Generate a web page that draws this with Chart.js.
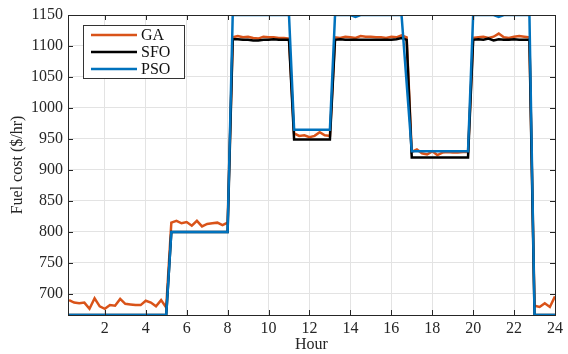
<!DOCTYPE html>
<html>
<head>
<meta charset="utf-8">
<script src="https://cdn.jsdelivr.net/npm/chart.js@4/dist/chart.umd.min.js"></script>
<style>
  html, body { margin: 0; padding: 0; background: #fff; }
  #wrap { width: 568px; height: 354px; }
</style>
</head>
<body>
<div id="wrap"><canvas id="fuelChart" width="568" height="354"></canvas></div>
<script>
// hours in 15-minute steps (0.25 .. 24)
const hours = Array.from({ length: 96 }, (_, i) => (i + 1) / 4);

const seriesNames = ['GA', 'SFO', 'PSO'];
const seriesColors = ['#D95319', '#000000', '#0072BD'];

const gaCost = [
  690, 686, 685, 686, 676, 693, 680, 676, 682, 681, 692, 684, 683, 682, 682, 689, 686, 680, 690, 678,
  815, 818, 814, 816, 810, 818, 809, 813, 814, 815, 811, 815,
  1114, 1116, 1114, 1115, 1113, 1112, 1115, 1114, 1114, 1113, 1113, 1112,
  959, 955, 956, 953, 955, 961, 956, 955,
  1114, 1113, 1115, 1114, 1113, 1116, 1115, 1115, 1114, 1114, 1113, 1115, 1114, 1117, 1114,
  929, 933, 927, 925, 930, 924, 928, 929, 928, 928, 929, 929,
  1113, 1114, 1115, 1113, 1115, 1120, 1114, 1113, 1115, 1116, 1115, 1114,
  681, 679, 685, 679, 696
];

const sfoCost = [
  666, 666, 666, 666, 666, 666, 666, 666, 666, 666, 666, 666, 666, 666, 666, 666, 666, 666, 666, 666,
  800, 800, 800, 800, 800, 800, 800, 800, 800, 800, 800, 800,
  1111, 1111, 1110, 1110, 1109, 1109, 1110, 1110, 1111, 1110, 1110, 1110,
  949, 949, 949, 949, 949, 949, 949, 949,
  1110, 1111, 1110, 1110, 1110, 1110, 1110, 1110, 1110, 1110, 1110, 1110, 1111, 1113, 1110,
  920, 920, 920, 920, 920, 920, 920, 920, 920, 920, 920, 920,
  1110, 1111, 1110, 1112, 1109, 1111, 1110, 1110, 1111, 1110, 1110, 1110,
  666, 666, 666, 666, 666
];

const psoCost = [
  666, 666, 666, 666, 666, 666, 666, 666, 666, 666, 666, 666, 666, 666, 666, 666, 666, 666, 666, 666,
  800, 800, 800, 800, 800, 800, 800, 800, 800, 800, 800, 800,
  1150, 1150, 1150, 1150, 1150, 1150, 1150, 1150, 1150, 1150, 1150, 1150,
  965, 965, 965, 965, 965, 965, 965, 965,
  1150, 1150, 1150, 1150, 1147, 1150, 1150, 1150, 1150, 1150, 1150, 1150, 1150, 1150, 1040,
  930, 930, 930, 930, 930, 930, 930, 930, 930, 930, 930, 930,
  1150, 1150, 1150, 1150, 1150, 1147, 1150, 1150, 1150, 1150, 1150, 1150,
  666, 666, 666, 666, 666
];

const yTicks = [700, 750, 800, 850, 900, 950, 1000, 1050, 1100, 1150];
const xTicks = [2, 4, 6, 8, 10, 12, 14, 16, 18, 20, 22, 24];

const allSeries = [gaCost, sfoCost, psoCost];

const FONT = 'Liberation Serif, Times New Roman, serif';
const AXIS_COL = '#262626';

// box around plot area + inward ticks + framed legend (matlab look)
const matlabFrame = {
  id: 'matlabFrame',
  afterDatasetsDraw(chart) {
    const { ctx, chartArea: a, scales } = chart;
    ctx.save();
    ctx.strokeStyle = AXIS_COL;
    ctx.lineWidth = 1;
    ctx.strokeRect(a.left + 0.5, a.top + 0.5, a.right - a.left, a.bottom - a.top);
    ctx.beginPath();
    xTicks.forEach(function (t) {
      const px = Math.round(scales.x.getPixelForValue(t)) + 0.5;
      ctx.moveTo(px, a.bottom); ctx.lineTo(px, a.bottom - 5);
      ctx.moveTo(px, a.top); ctx.lineTo(px, a.top + 5);
    });
    yTicks.forEach(function (t) {
      const py = Math.round(scales.y.getPixelForValue(t)) + 0.5;
      ctx.moveTo(a.left, py); ctx.lineTo(a.left + 5, py);
      ctx.moveTo(a.right, py); ctx.lineTo(a.right - 5, py);
    });
    ctx.stroke();

    // legend
    const lx = 83, ly = 25, lw = 101, lh = 53;
    ctx.fillStyle = '#fff';
    ctx.fillRect(lx, ly, lw, lh);
    ctx.strokeStyle = '#333';
    ctx.strokeRect(lx + 0.5, ly + 0.5, lw, lh);
    ctx.font = '16px ' + FONT;
    ctx.textBaseline = 'middle';
    chart.data.datasets.forEach(function (ds, i) {
      const y = ly + 10 + i * 17;
      ctx.strokeStyle = ds.borderColor;
      ctx.lineWidth = 2.5;
      ctx.beginPath();
      ctx.moveTo(lx + 8, y); ctx.lineTo(lx + 54, y);
      ctx.stroke();
      ctx.fillStyle = '#111';
      ctx.fillText(ds.label, lx + 58, y + 1);
    });
    ctx.restore();
  }
};

const plainNum = function (v) { return String(v); };

new Chart(document.getElementById('fuelChart'), {
  type: 'line',
  data: {
    datasets: seriesNames.map(function (name, i) {
      return {
        label: name,
        data: hours.map(function (h, k) { return { x: h, y: allSeries[i][k] }; }),
        borderColor: seriesColors[i],
        backgroundColor: seriesColors[i],
        borderWidth: 2.5,
        pointRadius: 0,
        tension: 0,
        order: 2 - i
      };
    })
  },
  options: {
    responsive: false,
    animation: false,
    layout: { padding: { top: 15, right: 13, left: 0, bottom: 0 } },
    plugins: {
      legend: { display: false },
      tooltip: { enabled: false }
    },
    scales: {
      x: {
        type: 'linear',
        min: 0.2,
        max: 24,
        afterFit: function (s) { s.height = 39; },
        afterBuildTicks: function (s) { s.ticks = xTicks.map(function (v) { return { value: v }; }); },
        grid: { color: '#e3e3e3', drawTicks: false },
        border: { display: false },
        ticks: { color: AXIS_COL, padding: 4, maxRotation: 0, callback: plainNum, font: { family: FONT, size: 16 } },
        title: { display: true, text: 'Hour', color: AXIS_COL, padding: { top: 0, bottom: 0 }, font: { family: FONT, size: 16 } }
      },
      y: {
        min: 666,
        max: 1150,
        afterFit: function (s) { s.width = 68; },
        afterBuildTicks: function (s) { s.ticks = yTicks.map(function (v) { return { value: v }; }); },
        grid: { color: '#e3e3e3', drawTicks: false },
        border: { display: false },
        ticks: { color: AXIS_COL, padding: 5, callback: plainNum, font: { family: FONT, size: 16 } },
        title: { display: true, text: 'Fuel cost ($/hr)', color: AXIS_COL, padding: { top: 8, bottom: 0 }, font: { family: FONT, size: 16 } }
      }
    }
  },
  plugins: [matlabFrame]
});
</script>
</body>
</html>
